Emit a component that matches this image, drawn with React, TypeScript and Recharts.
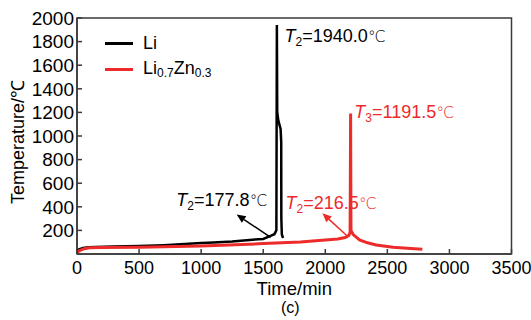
import React from 'react';
import { LineChart, Line, XAxis, YAxis, ReferenceArea, ReferenceLine, ReferenceDot, Legend, Label } from 'recharts';

// Li (black) heating curve
const liTime = [0, 20, 50, 90, 150, 300, 500, 700, 900, 1000, 1100, 1250, 1390, 1500, 1550, 1590, 1606, 1610, 1613, 1622, 1640, 1645, 1646, 1650, 1660];
const liTemp = [30, 42, 52, 58, 60, 63, 68, 75, 86, 93, 98, 106, 119, 128, 150, 168, 200, 1940, 1200, 1130, 1060, 950, 300, 165, 136];

// Li0.7Zn0.3 (red) heating curve
const lznTime = [0, 25, 60, 100, 200, 500, 1000, 1500, 1800, 2000, 2100, 2160, 2190, 2200, 2204, 2207, 2225, 2276, 2340, 2410, 2545, 2660, 2782];
const lznTemp = [15, 30, 45, 52, 55, 58, 68, 88, 102, 118, 128, 140, 158, 185, 1191.5, 200, 165, 120, 95, 77, 58, 48, 40];

const xTicks = [0, 500, 1000, 1500, 2000, 2500, 3000, 3500];
const yTicks = [200, 400, 600, 800, 1000, 1200, 1400, 1600, 1800, 2000];

const liData = liTime.map((t, i) => ({ time: t, temp: liTemp[i] }));
const lznData = lznTime.map((t, i) => ({ time: t, temp: lznTemp[i] }));

const BLACK = '#000000';
const RED = '#ee2b2b';
const AXIS = '#3a3a3a';

const Annot = (props: any) => {
  const { cx, cy, sub, rest, color } = props;
  return (
    <text x={cx} y={cy} fill={color} fontSize={18}>
      <tspan fontStyle="italic">T</tspan>
      <tspan fontSize={12} dy={4}>{sub}</tspan>
      <tspan dy={-4}>{rest}</tspan>
      <tspan fontWeight={300} fontFamily="DejaVu Sans, sans-serif" fontSize={16}>℃</tspan>
    </text>
  );
};

const Arrow = (props: any) => {
  const { x1, y1, x2, y2, color } = props;
  const ang = Math.atan2(y2 - y1, x2 - x1);
  const L = 9;
  const W = 4;
  const bx = x2 - L * Math.cos(ang);
  const by = y2 - L * Math.sin(ang);
  const px = -Math.sin(ang) * W;
  const py = Math.cos(ang) * W;
  return (
    <g>
      <line x1={x1} y1={y1} x2={bx} y2={by} stroke={color} strokeWidth={1.5} />
      <polygon points={`${x2},${y2} ${bx + px},${by + py} ${bx - px},${by - py}`} fill={color} />
    </g>
  );
};

const legendLabel = (name: string) => {
  if (name === 'Li0.7Zn0.3') {
    return (
      <span>
        Li<sub style={{ fontSize: 12, verticalAlign: '-3px' }}>0.7</sub>Zn<sub style={{ fontSize: 12, verticalAlign: '-3px' }}>0.3</sub>
      </span>
    );
  }
  return <span>{name}</span>;
};

const LegendContent = (props: any) => {
  const { payload } = props;
  return (
    <div style={{ display: 'flex', flexDirection: 'column' }}>
      {(payload || []).map((p: any) => (
        <div key={p.value} style={{ display: 'flex', alignItems: 'center', height: 26, fontSize: 18, color: '#000' }}>
          <div style={{ width: 28, height: 3, background: p.color, marginRight: 10 }} />
          {legendLabel(p.value)}
        </div>
      ))}
    </div>
  );
};

export default function App() {
  return (
    <div style={{ fontFamily: '"Liberation Sans", Arial, sans-serif', width: 531, height: 320, position: 'absolute', left: 0, top: 0 }}>
      <LineChart width={531} height={320} margin={{ top: 18, right: 19.5, left: 17, bottom: 36 }}>
        <XAxis
          type="number"
          dataKey="time"
          domain={[0, 3500]}
          ticks={xTicks}
          interval={0}
          allowDataOverflow
          height={30}
          stroke={AXIS}
          strokeWidth={1.5}
          tickSize={-5}
          tickMargin={12}
          tick={{ fill: '#000', fontSize: 18 }}
        >
          <Label
            content={(p: any) => {
              const vb = p.viewBox || { x: 77, y: 254, width: 434.5 };
              const cx = vb.x + vb.width / 2;
              return (
                <g>
                  <text x={cx} y={vb.y + 41} textAnchor="middle" fontSize={18.5} fill="#000">Time/min</text>
                  <text x={cx - 4} y={vb.y + 59} textAnchor="middle" fontSize={16} fill="#000">(c)</text>
                </g>
              );
            }}
          />
        </XAxis>
        <YAxis
          type="number"
          domain={[0, 2000]}
          ticks={yTicks}
          interval={0}
          allowDataOverflow
          width={60}
          stroke={AXIS}
          strokeWidth={1.5}
          tickSize={-5}
          tickMargin={8}
          tick={{ fill: '#000', fontSize: 19 }}
        >
          <Label
            content={(p: any) => {
              const vb = p.viewBox || { x: 17, y: 18, width: 60, height: 236 };
              const x = vb.x + 7;
              const y = vb.y + vb.height / 2 + 6;
              return (
                <text x={x} y={y} transform={`rotate(-90, ${x}, ${y})`} textAnchor="middle" fontSize={18} fill="#000">
                  Temperature/℃
                </text>
              );
            }}
          />
        </YAxis>
        <ReferenceArea x1={0} x2={3500} y1={0} y2={2000} fill="none" stroke={AXIS} strokeWidth={1.5} fillOpacity={0} />
        <Legend
          layout="horizontal"
          align="center"
          verticalAlign="middle"
          content={<LegendContent />}
          wrapperStyle={{ left: 105, top: 30, width: 'auto', height: 'auto' }}
        />
        <Line data={liData} dataKey="temp" name="Li" type="linear" stroke={BLACK} strokeWidth={2.5} dot={false} isAnimationActive={false} />
        <Line data={lznData} dataKey="temp" name="Li0.7Zn0.3" type="linear" stroke={RED} strokeWidth={3} dot={false} isAnimationActive={false} />
        <ReferenceLine segment={[{ x: 1560, y: 140 }, { x: 1286, y: 335 }]} shape={(p: any) => <Arrow {...p} color={BLACK} />} />
        <ReferenceLine segment={[{ x: 2179, y: 150 }, { x: 1977, y: 345 }]} shape={(p: any) => <Arrow {...p} color={RED} />} />
        <ReferenceDot x={1672} y={1796} r={0} shape={(p: any) => <Annot {...p} sub="2" rest="=1940.0" color={BLACK} />} />
        <ReferenceDot x={2234} y={1149} r={0} shape={(p: any) => <Annot {...p} sub="3" rest="=1191.5" color={RED} />} />
        <ReferenceDot x={800} y={408} r={0} shape={(p: any) => <Annot {...p} sub="2" rest="=177.8" color={BLACK} />} />
        <ReferenceDot x={1680} y={380} r={0} shape={(p: any) => <Annot {...p} sub="2" rest="=216.5" color={RED} />} />
      </LineChart>
    </div>
  );
}
